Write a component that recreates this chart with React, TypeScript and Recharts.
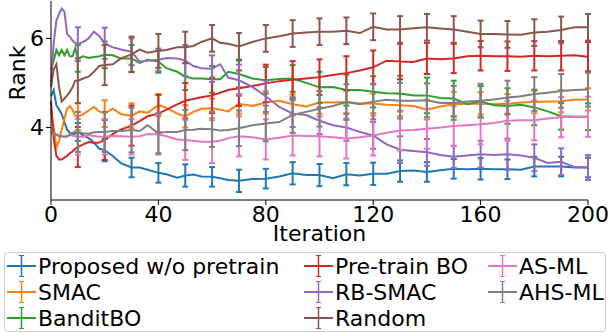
import React from "react"
import { ErrorBar, Line, LineChart, XAxis, YAxis } from "recharts"

const iterations = [
  0, 1, 2, 3, 4, 5, 6, 7, 8, 9, 10, 12, 14, 16, 18, 20, 23, 26, 30, 33, 36, 40, 43, 47, 50, 53, 56, 60, 63, 66,
  70, 75, 80, 85, 90, 95, 100, 105, 110, 115, 120, 125, 130, 135, 140, 145, 150, 155, 160, 165, 170, 175, 180,
  185, 190, 195, 200,
]

const proposed = [
  4.7, 4.84, 4.5, 4.4, 4.3, 4.12, 3.95, 3.88, 3.84, 3.86, 3.9, 3.82, 3.76, 3.66, 3.52, 3.49, 3.36, 3.2, 3.1, 3.1,
  3.05, 2.98, 2.95, 2.87, 2.92, 2.94, 2.9, 2.89, 2.86, 2.82, 2.8, 2.84, 2.85, 2.9, 2.97, 2.93, 2.93, 2.86, 2.95,
  2.92, 2.96, 2.96, 3.02, 3.03, 3.0, 3.04, 3.07, 3.06, 3.07, 3.06, 3.06, 3.05, 3.12, 3.12, 3.12, 3.1, 3.1,
]
const smac = [
  4.4, 4.0, 3.55, 3.7, 3.95, 4.2, 4.42, 4.48, 4.4, 4.26, 4.24, 4.3, 4.38, 4.46, 4.36, 4.31, 4.42, 4.3, 4.26, 4.36,
  4.33, 4.5, 4.44, 4.31, 4.25, 4.35, 4.42, 4.43, 4.4, 4.36, 4.53, 4.48, 4.56, 4.6, 4.52, 4.47, 4.56, 4.56, 4.57,
  4.54, 4.54, 4.51, 4.5, 4.48, 4.4, 4.47, 4.52, 4.53, 4.54, 4.52, 4.53, 4.56, 4.57, 4.58, 4.59, 4.62, 4.63,
]
const banditBO = [
  5.3, 5.5, 5.74, 5.62, 5.74, 5.62, 5.74, 5.6, 5.6, 5.78, 5.55, 5.6, 5.56, 5.58, 5.6, 5.63, 5.62, 5.55, 5.55, 5.45,
  5.52, 5.48, 5.33, 5.25, 5.14, 5.1, 5.1, 5.08, 5.08, 5.25, 5.2, 5.1, 5.06, 5.09, 5.1, 5.0, 4.9, 4.91, 4.84, 4.84,
  4.8, 4.77, 4.76, 4.72, 4.72, 4.66, 4.65, 4.52, 4.58, 4.5, 4.48, 4.51, 4.45, 4.36, 4.25, 4.24, 4.24,
]
const pretrainBO = [
  4.6, 3.75, 3.36, 3.28, 3.28, 3.32, 3.36, 3.42, 3.46, 3.52, 3.56, 3.62, 3.67, 3.65, 3.66, 3.72, 3.85, 3.95, 4.04,
  4.14, 4.25, 4.31, 4.4, 4.52, 4.6, 4.64, 4.68, 4.72, 4.78, 4.84, 4.88, 4.93, 4.99, 5.04, 5.07, 5.1, 5.13, 5.18,
  5.22, 5.28, 5.35, 5.5, 5.48, 5.47, 5.55, 5.53, 5.55, 5.6, 5.61, 5.6, 5.6, 5.59, 5.61, 5.6, 5.61, 5.62, 5.59,
]
const rbSmac = [
  5.0, 5.9, 6.4, 6.55, 6.67, 6.6, 6.1, 6.04, 5.95, 5.9, 5.87, 5.92, 6.0, 6.15, 6.05, 5.89, 5.8, 5.75, 5.7, 5.48,
  5.5, 5.52, 5.56, 5.55, 5.5, 5.38, 5.33, 5.32, 5.42, 5.12, 5.06, 4.91, 4.7, 4.46, 4.31, 4.28, 4.15, 4.05, 4.0,
  3.9, 3.82, 3.62, 3.5, 3.47, 3.44, 3.38, 3.34, 3.37, 3.4, 3.38, 3.4, 3.37, 3.32, 3.2, 3.23, 3.11, 3.1,
]
const random = [
  4.9, 5.3, 5.42, 4.9, 4.58, 4.65, 4.72, 4.8, 4.9, 5.05, 5.05, 5.1, 5.14, 5.25, 5.38, 5.4, 5.42, 5.55, 5.64, 5.75,
  5.68, 5.72, 5.74, 5.8, 5.8, 5.83, 5.92, 6.0, 5.9, 5.88, 5.82, 5.92, 6.0, 6.05, 6.11, 6.13, 6.15, 6.15, 6.17, 6.12,
  6.26, 6.2, 6.2, 6.23, 6.25, 6.22, 6.2, 6.15, 6.1, 6.1, 6.09, 6.08, 6.13, 6.15, 6.19, 6.25, 6.25,
]
const asMl = [
  3.85, 3.86, 3.84, 3.82, 3.8, 3.79, 3.8, 3.83, 3.82, 3.8, 3.79, 3.79, 3.83, 3.81, 3.79, 3.79, 3.81, 3.8, 3.79, 3.8,
  3.85, 3.84, 3.8, 3.73, 3.72, 3.7, 3.68, 3.68, 3.7, 3.76, 3.8, 3.78, 3.73, 3.77, 3.82, 3.81, 3.8, 3.78, 3.75, 3.78,
  3.82, 3.88, 3.93, 3.94, 3.97, 4.0, 4.03, 4.05, 4.07, 4.1, 4.15, 4.16, 4.16, 4.2, 4.23, 4.24, 4.24,
]
const ahsMl = [
  3.9, 3.88, 3.84, 3.8, 3.8, 3.79, 3.8, 3.84, 3.88, 3.9, 3.9, 3.87, 3.86, 3.89, 3.9, 3.9, 3.92, 3.92, 3.94, 3.92,
  4.05, 3.87, 3.9, 3.9, 3.94, 3.95, 3.97, 3.96, 3.93, 3.94, 3.98, 4.05, 4.09, 4.12, 4.28, 4.35, 4.42, 4.48, 4.57,
  4.52, 4.58, 4.62, 4.6, 4.6, 4.61, 4.55, 4.55, 4.58, 4.6, 4.63, 4.67, 4.7, 4.75, 4.78, 4.82, 4.84, 4.85,
]

// error bars are drawn every 10 iterations
const errIterations = [10, 20, 30, 40, 50, 60, 70, 80, 90, 100, 110, 120, 130, 140, 150, 160, 170, 180, 190, 200]
const proposedErr = [0.2, 0.25, 0.22, 0.22, 0.25, 0.22, 0.25, 0.22, 0.25, 0.25, 0.25, 0.25, 0.24, 0.22, 0.22, 0.24, 0.22, 0.22, 0.22, 0.22]
const smacErr = [0.3, 0.3, 0.28, 0.25, 0.25, 0.22, 0.22, 0.25, 0.22, 0.25, 0.25, 0.22, 0.25, 0.22, 0.28, 0.25, 0.22, 0.25, 0.25, 0.25]
const banditErr = [0.3, 0.3, 0.3, 0.25, 0.3, 0.3, 0.3, 0.3, 0.3, 0.35, 0.35, 0.35, 0.4, 0.4, 0.4, 0.35, 0.4, 0.4, 0.3, 0.3]
const pretrainErr = [0.45, 0.45, 0.45, 0.42, 0.4, 0.4, 0.4, 0.42, 0.42, 0.4, 0.38, 0.38, 0.4, 0.35, 0.33, 0.33, 0.33, 0.33, 0.33, 0.33]
const rbSmacErr = [0.38, 0.35, 0.3, 0.25, 0.35, 0.3, 0.35, 0.35, 0.3, 0.3, 0.3, 0.3, 0.3, 0.3, 0.25, 0.3, 0.35, 0.3, 0.3, 0.28]
const randomErr = [0.5, 0.45, 0.4, 0.38, 0.35, 0.3, 0.3, 0.3, 0.3, 0.3, 0.3, 0.3, 0.3, 0.3, 0.3, 0.3, 0.3, 0.3, 0.3, 0.3]
const asMlErr = [0.4, 0.4, 0.4, 0.45, 0.45, 0.48, 0.45, 0.45, 0.45, 0.45, 0.45, 0.45, 0.45, 0.45, 0.45, 0.45, 0.45, 0.45, 0.45, 0.45]
const ahsMlErr = [0.45, 0.45, 0.5, 0.45, 0.45, 0.4, 0.4, 0.4, 0.4, 0.4, 0.4, 0.4, 0.4, 0.38, 0.38, 0.38, 0.38, 0.38, 0.38, 0.38]

const xTicks = [0, 40, 80, 120, 160, 200]
const yTicks = [4, 6]

const series = [
  { key: "proposed", name: "Proposed w/o pretrain", color: "#1f77b4", values: proposed, errors: proposedErr },
  { key: "smac", name: "SMAC", color: "#ff7f0e", values: smac, errors: smacErr },
  { key: "bandit", name: "BanditBO", color: "#2ca02c", values: banditBO, errors: banditErr },
  { key: "pretrain", name: "Pre-train BO", color: "#d62728", values: pretrainBO, errors: pretrainErr },
  { key: "rbsmac", name: "RB-SMAC", color: "#9467bd", values: rbSmac, errors: rbSmacErr },
  { key: "random", name: "Random", color: "#8c564b", values: random, errors: randomErr },
  { key: "asml", name: "AS-ML", color: "#e377c2", values: asMl, errors: asMlErr },
  { key: "ahsml", name: "AHS-ML", color: "#7f7f7f", values: ahsMl, errors: ahsMlErr },
]

const data = iterations.map((it, i) => {
  const row: Record<string, number | null> = { iter: it }
  const e = errIterations.indexOf(it)
  series.forEach((s) => {
    row[s.key] = s.values[i]
    row[s.key + "Err"] = e >= 0 ? s.errors[e] : null
  })
  return row
})

const font = "'DejaVu Sans', sans-serif"
const fs = 22
const legendCols = [6, 303, 487]
const legendRows = [266, 292, 318]

const LegendBox = () => (
  <div
    style={{
      position: "absolute",
      left: 4,
      top: 252,
      width: 600,
      height: 78,
      border: "1px solid #d0d0d0",
      borderRadius: 4,
      background: "#fff",
    }}
  >
    {series.map((s, i) => {
      const x = legendCols[Math.floor(i / 3)] - 5
      const y = legendRows[i % 3] - 253
      return (
        <div key={s.key} style={{ position: "absolute", left: x, top: y - 13, height: 26, display: "flex", alignItems: "center" }}>
          <svg width={31} height={26}>
            <line x1={1} x2={30} y1={13} y2={13} stroke={s.color} strokeWidth={2} />
            <line x1={15.5} x2={15.5} y1={2} y2={24} stroke={s.color} strokeWidth={1.5} />
            <line x1={13} x2={18} y1={2.5} y2={2.5} stroke={s.color} strokeWidth={1} />
            <line x1={13} x2={18} y1={23.5} y2={23.5} stroke={s.color} strokeWidth={1} />
          </svg>
          <span style={{ fontFamily: font, fontSize: fs, color: "#000", marginLeft: 1, whiteSpace: "nowrap" }}>{s.name}</span>
        </div>
      )
    })}
  </div>
)

export default function App() {
  return (
    <div style={{ position: "absolute", left: 0, top: 0, width: 610, height: 333, background: "#fff" }}>
      <LineChart width={610} height={333} data={data} margin={{ top: 1, right: 22, bottom: 0, left: 0 }}>
        <XAxis
          dataKey="iter"
          type="number"
          domain={[0, 200]}
          ticks={xTicks}
          height={133}
          tickSize={5}
          tickMargin={1}
          stroke="#000"
          tick={{ fill: "#000", fontSize: fs, fontFamily: font }}
          label={{ value: "Iteration", position: "insideTop", offset: 25, fill: "#000", fontSize: fs, fontFamily: font }}
        />
        <XAxis xAxisId="top" dataKey="iter" type="number" domain={[0, 200]} orientation="top" height={0} tick={false} tickLine={false} stroke="#000" />
        <YAxis
          type="number"
          domain={[2.37, 6.84]}
          ticks={yTicks}
          width={51}
          tickSize={5}
          tickMargin={2}
          stroke="#000"
          tick={{ fill: "#000", fontSize: fs, fontFamily: font }}
          label={{ value: "Rank", angle: -90, position: "insideLeft", offset: 17, fill: "#000", fontSize: fs, fontFamily: font }}
        />
        <YAxis yAxisId="right" orientation="right" domain={[2.37, 6.84]} width={0} tick={false} tickLine={false} stroke="#000" />
        {series.map((s) => (
          <Line
            key={s.key}
            dataKey={s.key}
            name={s.name}
            type="linear"
            stroke={s.color}
            strokeWidth={2}
            dot={false}
            isAnimationActive={false}
          >
            <ErrorBar dataKey={s.key + "Err"} direction="y" width={3} stroke={s.color} strokeWidth={2} isAnimationActive={false} />
          </Line>
        ))}
      </LineChart>
      <LegendBox />
    </div>
  )
}
